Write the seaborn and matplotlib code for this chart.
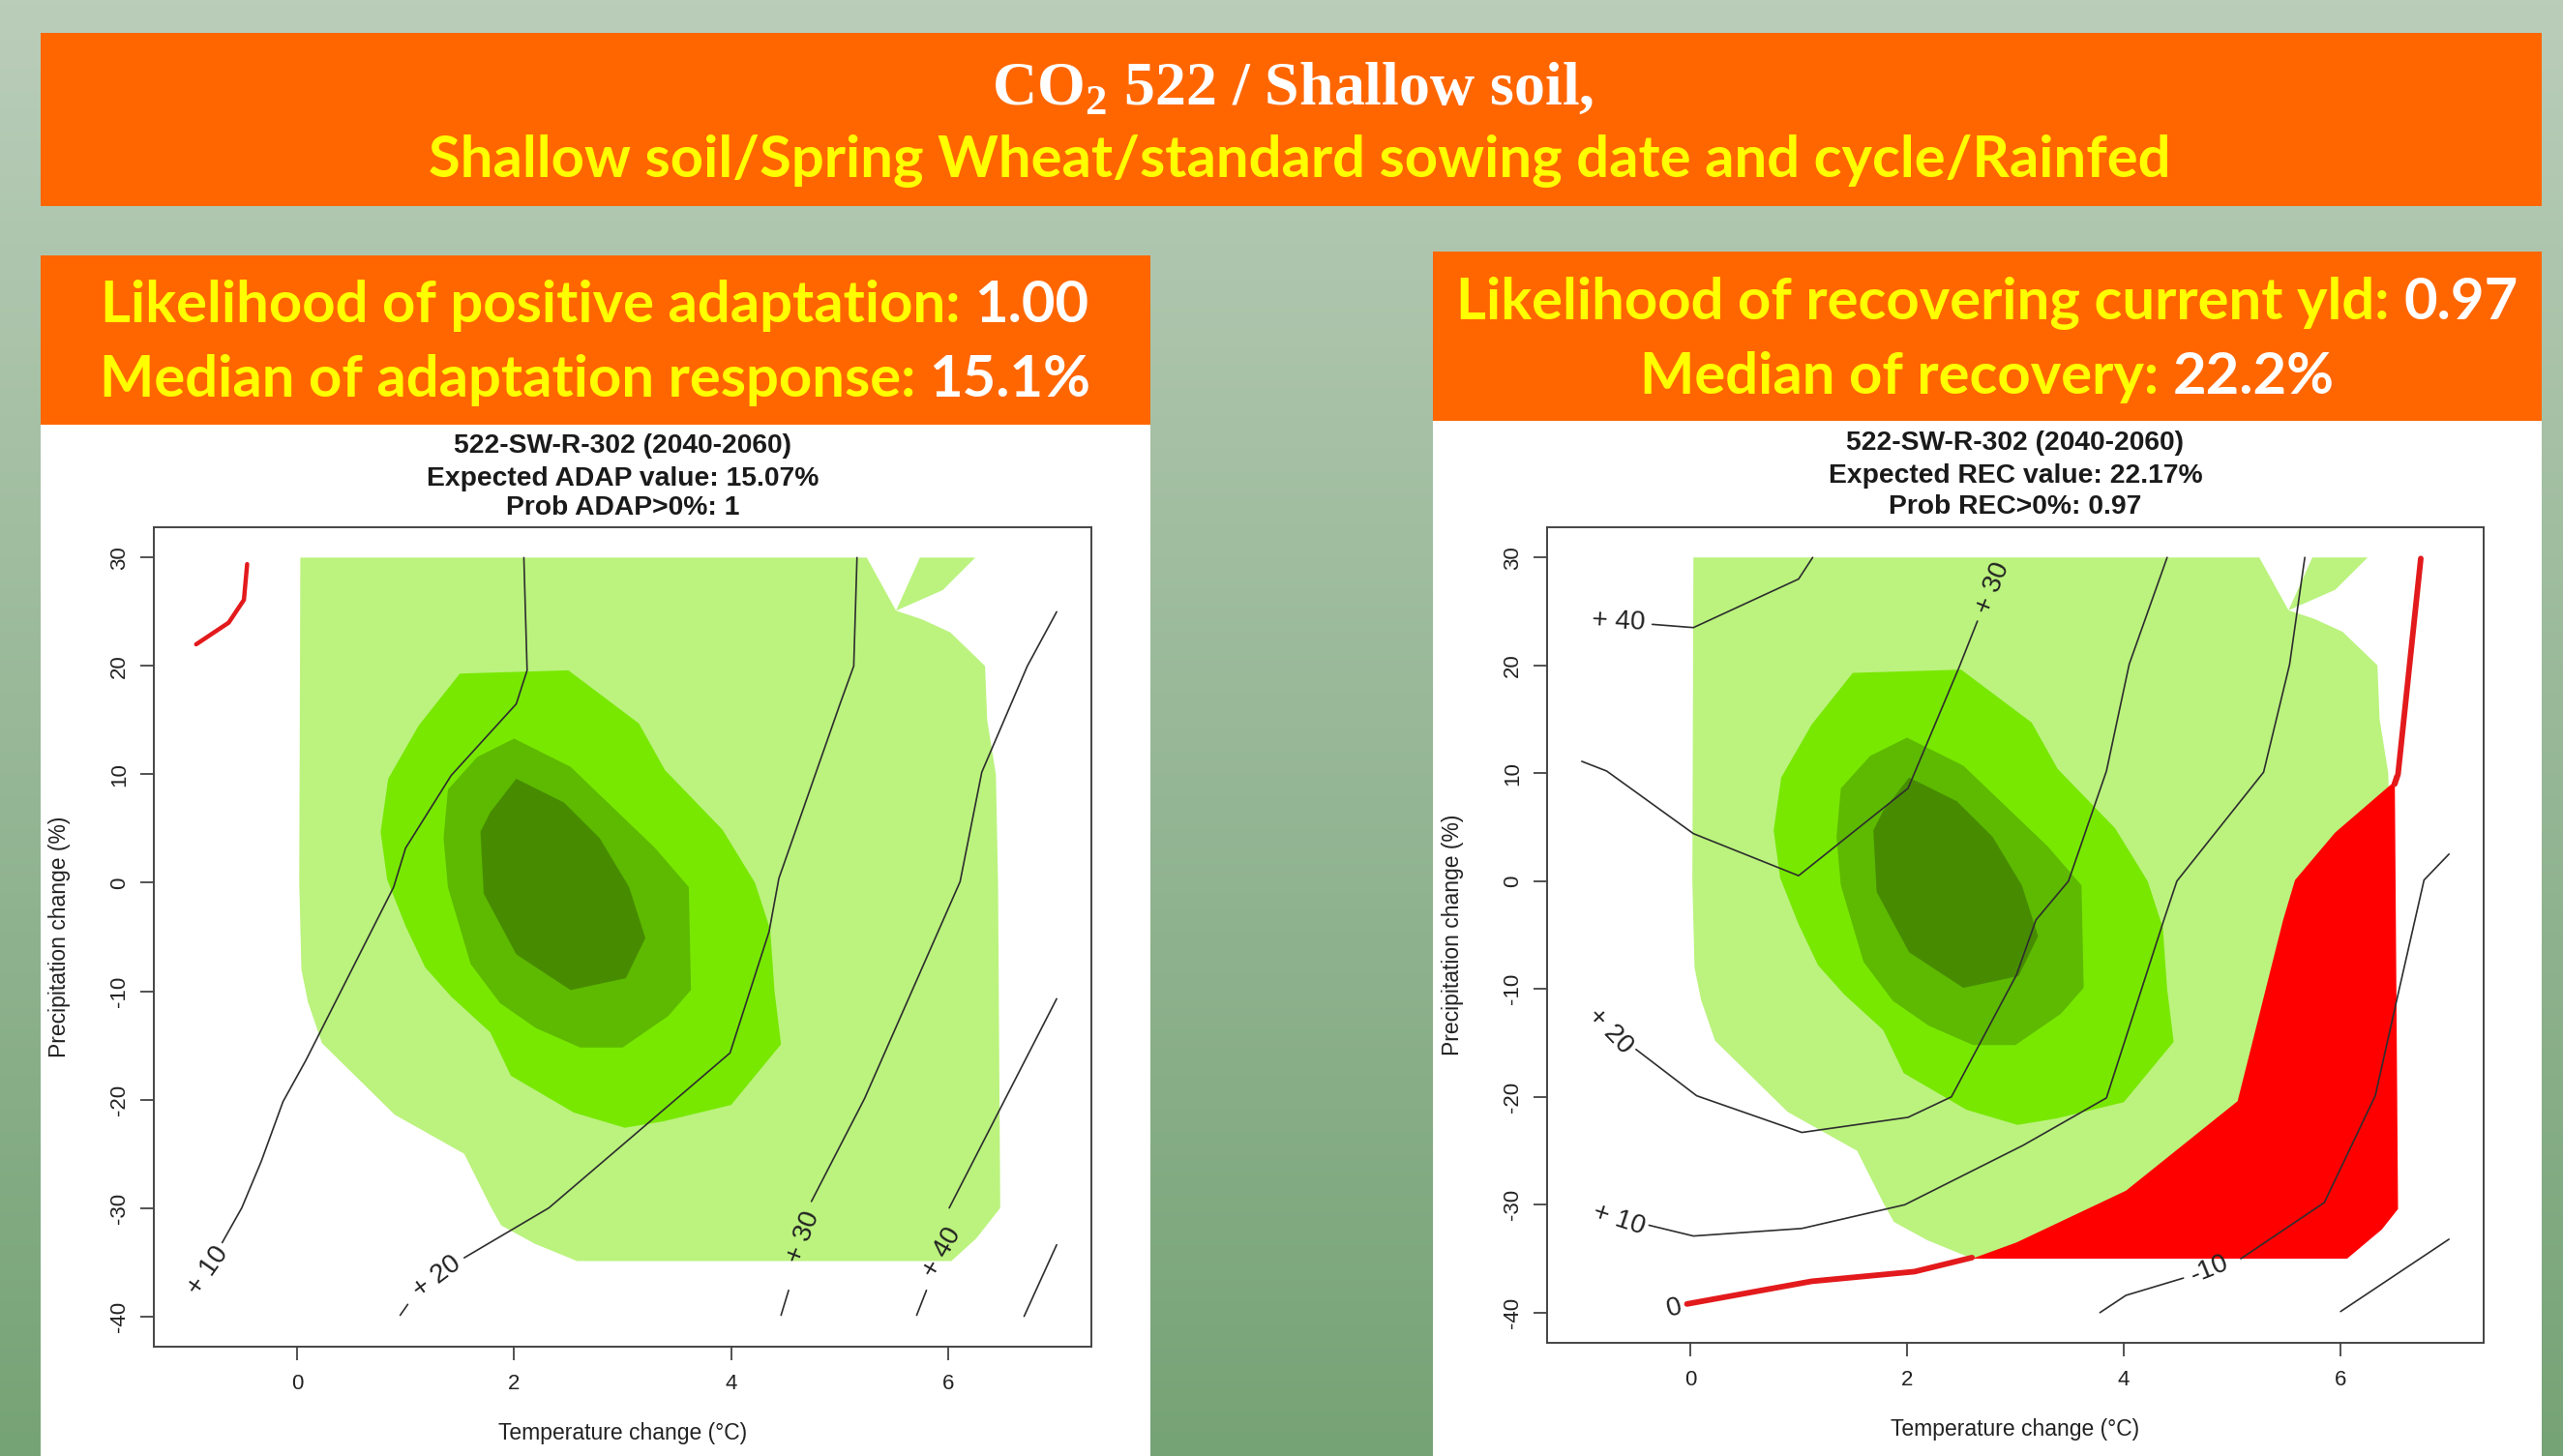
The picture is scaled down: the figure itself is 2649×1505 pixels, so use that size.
import numpy as np
import matplotlib
matplotlib.use("Agg")
import matplotlib.pyplot as plt
import seaborn as sns
from matplotlib.patches import Rectangle

W, H = 2649, 1505
ORANGE = "#ff6600"
YELLOW = "#ffff00"

temp_ticks = [0, 2, 4, 6]
precip_ticks = [-40, -30, -20, -10, 0, 10, 20, 30]

# probability density of the climate projections (same in both panels)
light_t = [0.03, 5.25, 5.52, 5.74, 6.25, 5.95, 5.52, 5.76, 6.02, 6.34, 6.36, 6.44, 6.46, 6.48,
           6.26, 6.03, 2.58, 2.19, 1.88, 1.78, 1.54, 0.90, 0.23, 0.10, 0.04, 0.02]
light_p = [30, 30, 25.1, 30, 30, 27.0, 25.1, 24.3, 23.1, 20.0, 15.0, 10.0, 0.0, -30.0,
           -32.8, -34.9, -34.9, -33.3, -31.6, -29.8, -25.0, -21.4, -14.8, -11.0, -8.0, 0.0]
bright_t = [1.50, 2.50, 3.15, 3.39, 3.92, 4.22, 4.36, 4.40, 4.46, 4.00, 3.38, 3.02, 2.55, 1.97,
            1.78, 1.42, 1.18, 1.00, 0.83, 0.77, 0.84, 1.12]
bright_p = [19.3, 19.6, 14.7, 10.4, 4.9, 0.0, -4.3, -10.0, -14.9, -20.5, -22.0, -22.6, -21.2, -17.8,
            -13.8, -10.5, -7.8, -4.0, 0.3, 4.7, 9.6, 14.5]
mid_t = [2.00, 2.52, 3.30, 3.61, 3.63, 3.42, 3.00, 2.61, 2.20, 1.87, 1.60, 1.39, 1.35, 1.39, 1.66]
mid_p = [13.3, 10.7, 3.2, -0.4, -9.9, -12.3, -15.2, -15.2, -13.4, -11.1, -7.5, -0.4, 4.1, 8.6, 11.6]
dark_t = [2.02, 2.46, 2.79, 3.06, 3.21, 3.03, 2.52, 2.02, 1.72, 1.69, 1.78]
dark_p = [9.6, 7.4, 4.1, -0.4, -5.1, -8.8, -9.9, -6.6, -1.0, 4.7, 6.5]

# left panel: adaptation response isolines
adap_lines = {
    "10": ([-0.69, -0.51, -0.33, -0.13, 0.08, 0.89, 1.00, 1.42, 2.02, 2.12, 2.09],
           [-33.2, -30.0, -25.7, -20.2, -16.4, -0.4, 3.2, 9.9, 16.5, 19.6, 30.0]),
    "20a": ([0.95, 1.02], [-39.9, -38.9]),
    "20": ([1.54, 2.32, 3.50, 3.99, 4.35, 4.44, 5.00, 5.13, 5.16],
           [-34.6, -30.0, -19.9, -15.7, -4.5, 0.4, 16.4, 20.0, 30.0]),
    "30a": ([4.46, 4.53], [-39.9, -37.6]),
    "30": ([4.74, 5.23, 6.11, 6.31, 6.73, 7.00], [-29.4, -19.9, 0.1, 10.2, 20.0, 25.0]),
    "40a": ([5.71, 5.80], [-39.9, -37.6]),
    "40": ([6.01, 7.00], [-30.0, -10.7]),
    "50": ([6.70, 7.00], [-40.0, -33.4]),
}
adap_red_t = [-0.93, -0.63, -0.49, -0.46]
adap_red_p = [22.0, 24.0, 26.1, 29.4]
adap_labels = [("+ 10", -0.82, -35.8, 55), ("+ 20", 1.29, -36.4, 37),
               ("+ 30", 4.67, -32.7, 69), ("+ 40", 5.94, -34.1, 60)]

# right panel: recovery isolines
rec_lines = {
    "40": ([-0.35, 0.03, 1.00, 1.13], [23.8, 23.5, 28.0, 30.0]),
    "30": ([2.65, 2.48, 2.01, 1.00, 0.03, -0.77, -1.00], [24.1, 19.8, 8.6, 0.5, 4.4, 10.2, 11.1]),
    "20": ([4.40, 4.05, 3.84, 3.49, 3.19, 3.01, 2.41, 2.01, 1.03, 0.06, -0.50],
           [30.0, 20.1, 10.2, 0.0, -3.6, -8.7, -20.0, -21.9, -23.3, -19.9, -15.6]),
    "10": ([5.67, 5.53, 5.29, 4.49, 4.37, 3.84, 3.07, 1.98, 1.03, 0.03, -0.38],
           [30.0, 20.1, 10.1, 0.0, -3.6, -20.1, -24.5, -30.0, -32.2, -32.9, -31.9]),
    "m10a": ([7.00, 6.77, 6.53, 6.32, 5.85, 5.08], [2.5, 0.1, -10.5, -19.9, -29.8, -35.0]),
    "m10b": ([4.55, 4.02, 3.78], [-36.8, -38.4, -40.0]),
    "m20": ([6.00, 7.00], [-39.9, -33.2]),
}
rec_red_t = [6.47, 5.95, 5.58, 5.47, 5.05, 4.02, 3.01, 2.60, 6.06, 6.38, 6.53, 6.50]
rec_red_p = [9.0, 4.5, 0.1, -3.6, -20.4, -28.7, -33.5, -35.0, -35.0, -32.3, -30.4, 9.9]
rec_zero_low = ([-0.03, 1.12, 2.07, 2.60], [-39.2, -37.1, -36.2, -34.9])
rec_zero_high = ([6.50, 6.53, 6.74], [9.0, 9.9, 29.9])
rec_labels = [("+ 40", -0.66, 24.1, -3), ("+ 30", 2.79, 27.2, 68), ("+ 20", -0.74, -13.9, -46),
              ("+ 10", -0.66, -31.4, -18), ("0", -0.15, -39.6, 15), ("-10", 4.79, -36.0, 22)]

sns.set_style("ticks")
plt.rcParams["font.family"] = ["Liberation Sans", "DejaVu Sans"]
plt.rcParams["axes.unicode_minus"] = False
plt.rcParams["mathtext.fontset"] = "custom"
plt.rcParams["mathtext.rm"] = "Liberation Serif:bold"

fig = plt.figure(figsize=(W / 100, H / 100), dpi=100)

# slide background, pixel coordinates
bg = fig.add_axes([0, 0, 1, 1])
grad = np.linspace(0, 1, 256)[:, None, None]
top = np.array([186, 205, 185]) / 255
bot = np.array([118, 163, 118]) / 255
bg.imshow(top + (bot - top) * grad, extent=(0, W, H, 0), aspect="auto")
bg.set_xlim(0, W)
bg.set_ylim(H, 0)
bg.axis("off")

for (x, y, w, h), c in [((42, 34, 2585, 179), ORANGE), ((42, 264, 1147, 175), ORANGE),
                        ((42, 439, 1147, 1066), "white"), ((1481, 260, 1146, 175), ORANGE),
                        ((1481, 435, 1146, 1070), "white")]:
    bg.add_patch(Rectangle((x, y), w, h, color=c, lw=0))

bg.text(1336, 108, r"CO$_\mathrm{2}$ 522 / Shallow soil,", family="Liberation Serif",
        weight="bold", size=46, color="white", ha="center", va="baseline")
bg.text(1343, 183, "Shallow soil/Spring Wheat/standard sowing date and cycle/Rainfed",
        family="Lato", weight="bold", size=43, color=YELLOW, ha="center", va="baseline")

renderer = fig.canvas.get_renderer()


def two_tone(x, y, left, right, size=43):
    kw = dict(family="Lato", weight="bold", size=size, va="baseline")
    probe = bg.text(x, y, left + " " + right, ha="center", **kw)
    full = probe.get_window_extent(renderer).width
    probe.remove()
    bg.text(x - full / 2, y, left, ha="left", color=YELLOW, **kw)
    bg.text(x + full / 2, y, right, ha="right", color="white", **kw)


two_tone(615, 333, "Likelihood of positive adaptation:", "1.00")
two_tone(615, 410, "Median of adaptation response:", "15.1%")
two_tone(2054, 330, "Likelihood of recovering current yld:", "0.97")
two_tone(2054, 407, "Median of recovery:", "22.2%")


def panel(px, title, title_y, lines, labels):
    x0, y0, x1, y1 = px
    h = y1 - y0
    ax = fig.add_axes([x0 / W, 1 - y1 / H, (x1 - x0) / W, h / H])
    ax.set_facecolor("white")
    ax.fill(light_t, light_p, color="#bbf37e", lw=0, zorder=1)
    ax.fill(bright_t, bright_p, color="#78e800", lw=0, zorder=1)
    ax.fill(mid_t, mid_p, color="#5dba00", lw=0, zorder=1)
    ax.fill(dark_t, dark_p, color="#478c00", lw=0, zorder=1)
    for key, (t, p) in lines.items():
        sns.lineplot(x=t, y=p, sort=False, estimator=None, color="#2e2e2e", lw=1.2, ax=ax, zorder=3)
    for txt, t, p, rot in labels:
        ax.text(t, p, txt, size=20, rotation=rot, rotation_mode="anchor",
                ha="center", va="center", color="#222", zorder=5)
    ax.set_xlim(-1.32, 7.32)
    ax.set_ylim(-42.8, 32.8)
    ax.set_xticks(temp_ticks)
    ax.set_xticklabels([str(v) for v in temp_ticks])
    ax.set_yticks(precip_ticks)
    ax.set_yticklabels([str(v) for v in precip_ticks], rotation=90, va="center")
    ax.tick_params(length=10, width=1.3, color="#444", labelsize=16, labelcolor="#222")
    ax.tick_params(axis="x", pad=10)
    ax.tick_params(axis="y", pad=8)
    for s in ax.spines.values():
        s.set_color("#444")
        s.set_linewidth(1.4)
    for line, yc in zip(title, title_y):
        ax.text(0.5, (y1 - yc) / h, line, transform=ax.transAxes,
                ha="center", va="center", size=20.3, weight="bold", color="#1a1a1a")
    ax.text(0.5, -0.106, "Temperature change (\u00b0C)", transform=ax.transAxes,
            ha="center", va="center", size=16.5, color="#222")
    ax.text(-0.101, 0.5, "Precipitation change (%)", transform=ax.transAxes, rotation=90,
            ha="center", va="center", size=16.5, color="#222")
    return ax


axl = panel((159, 545, 1128, 1392),
            ["522-SW-R-302 (2040-2060)", "Expected ADAP value: 15.07%", "Prob ADAP>0%: 1"],
            [461, 495, 525], adap_lines, adap_labels)
sns.lineplot(x=adap_red_t, y=adap_red_p, sort=False, estimator=None, color="#e31a1c", lw=3.2,
             ax=axl, zorder=4)

axr = panel((1599, 545, 2567, 1388),
            ["522-SW-R-302 (2040-2060)", "Expected REC value: 22.17%", "Prob REC>0%: 0.97"],
            [458, 492, 524], rec_lines, rec_labels)
axr.fill(rec_red_t, rec_red_p, color="#ff0000", lw=0, zorder=2)
for t, p in (rec_zero_low, rec_zero_high):
    sns.lineplot(x=t, y=p, sort=False, estimator=None, color="#e31a1c", lw=4.2, ax=axr, zorder=4)

fig.savefig("out.png", dpi=100)
